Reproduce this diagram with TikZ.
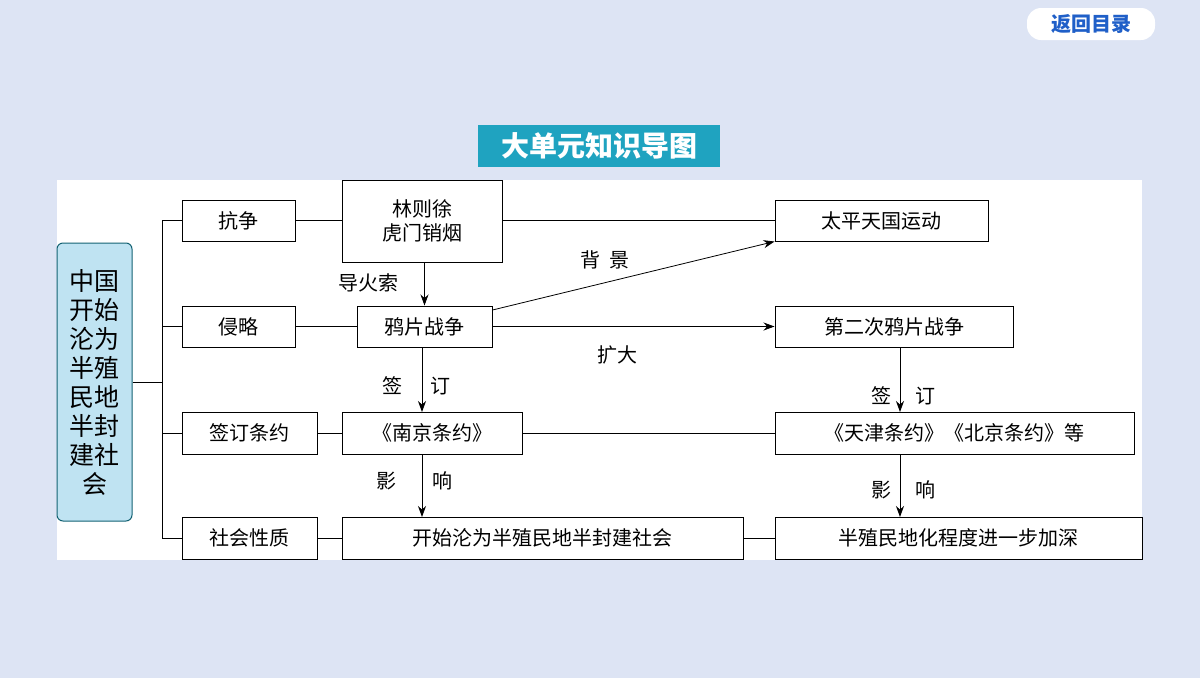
\documentclass[tikz,border=0pt]{standalone}
\usepackage{fontspec}
\setmainfont{Noto Sans CJK SC}
\usetikzlibrary{arrows.meta}
\definecolor{bg}{HTML}{DDE4F4}
\definecolor{teal}{HTML}{1FA3C0}
\definecolor{lb}{HTML}{BFE3F2}
\definecolor{btn}{HTML}{1F5FC8}
\begin{document}
\begin{tikzpicture}[x=1pt,y=-1pt,
 bx/.style={draw=black,line width=1pt,fill=white,inner sep=0pt,font=\fontsize{20}{24}\selectfont},
 ln/.style={line width=0.8pt},
 ar/.style={line width=0.8pt,-{Stealth[length=11pt,width=8pt]}},
 lab/.style={font=\fontsize{20}{24}\selectfont}]
\useasboundingbox (0,0) rectangle (1200,678);
\fill[bg] (0,0) rectangle (1200,678);
\fill[white] (57,180) rectangle (1142,560);
\node[fill=white,rounded corners=14pt,minimum width=128pt,minimum height=32pt,text=btn,font=\bfseries\fontsize{20}{24}\selectfont] (ret) at (1091,24) {返回目录};
\node[fill=teal,minimum width=242pt,minimum height=42pt,text=white,font=\bfseries\fontsize{28}{32}\selectfont] (title) at (599,146) {大单元知识导图};
\node[draw=teal!60!black,line width=1pt,fill=lb,rounded corners=6pt,minimum width=75pt,minimum height=278pt,align=center,font=\fontsize{25}{29}\selectfont] (L) at (94.5,382) {中国\\开始\\沦为\\半殖\\民地\\半封\\建社\\会};
% boxes
\node[bx,minimum width=113pt,minimum height=41pt] (k) at (238.5,220.5) {抗争};
\node[bx,minimum width=160pt,minimum height=82pt,align=center] (lin) at (422,221) {林则徐\\虎门销烟};
\node[bx,minimum width=213pt,minimum height=41pt] (tp) at (881.5,220.5) {太平天国运动};
\node[bx,minimum width=113pt,minimum height=41pt] (q) at (238.5,326.5) {侵略};
\node[bx,minimum width=135pt,minimum height=41pt] (yp) at (424.5,326.5) {鸦片战争};
\node[bx,minimum width=238pt,minimum height=41pt] (de) at (894,326.5) {第二次鸦片战争};
\node[bx,minimum width=135pt,minimum height=42pt] (qd) at (249.5,433) {签订条约};
\node[bx,minimum width=180pt,minimum height=42pt] (nj) at (432,433) {《南京条约》};
\node[bx,minimum width=359pt,minimum height=42pt] (tj) at (954.5,433) {《天津条约》《北京条约》等};
\node[bx,minimum width=135pt,minimum height=42pt] (sh) at (249.5,538) {社会性质};
\node[bx,minimum width=401pt,minimum height=42pt] (ks) at (542.5,538) {开始沦为半殖民地半封建社会};
\node[bx,minimum width=367pt,minimum height=42pt] (bz) at (958.5,538) {半殖民地化程度进一步加深};
% bracket
\coordinate (b) at (162,382);
\draw[ln] (L.east) -- (b);
\draw[ln] (162,220.5) -- (162,538);
\draw[ln] (162,220.5) -- (k.west);
\draw[ln] (162,326.5) -- (q.west);
\draw[ln] (162,433) -- (qd.west);
\draw[ln] (162,538) -- (sh.west);
% lines
\draw[ln] (k) -- (lin.west|-k);
\draw[ln] (lin.east|-k) -- (tp.west);
\draw[ln] (q) -- (yp);
\draw[ln] (qd) -- (nj);
\draw[ln] (nj) -- (tj);
\draw[ln] (sh) -- (ks);
\draw[ln] (ks) -- (bz);
% arrows
\draw[ar] (lin.south-|yp) -- (yp.north);
\node[lab] (l1) at (368,283) {导火索};
\draw[ar] (yp.east|-0,310) -- (tp.south west);
\node[lab] (l2) at (605,260) {背\ \ 景};
\draw[ar] (yp.east) -- (de.west);
\node[lab] (l3) at (617,355) {扩大};
\draw[ar] (422,347) -- (422,412);
\node[lab] (l4) at (416,386) {签\hspace{28pt}订};
\draw[ar] (900,347) -- (900,412);
\node[lab] (l5) at (903,396) {签\hspace{24pt}订};
\draw[ar] (422,454) -- (422,517);
\node[lab] (l6) at (414,481) {影\hspace{36pt}响};
\draw[ar] (900,454) -- (900,517);
\node[lab] (l7) at (903,490) {影\hspace{24pt}响};
\end{tikzpicture}
\end{document}
